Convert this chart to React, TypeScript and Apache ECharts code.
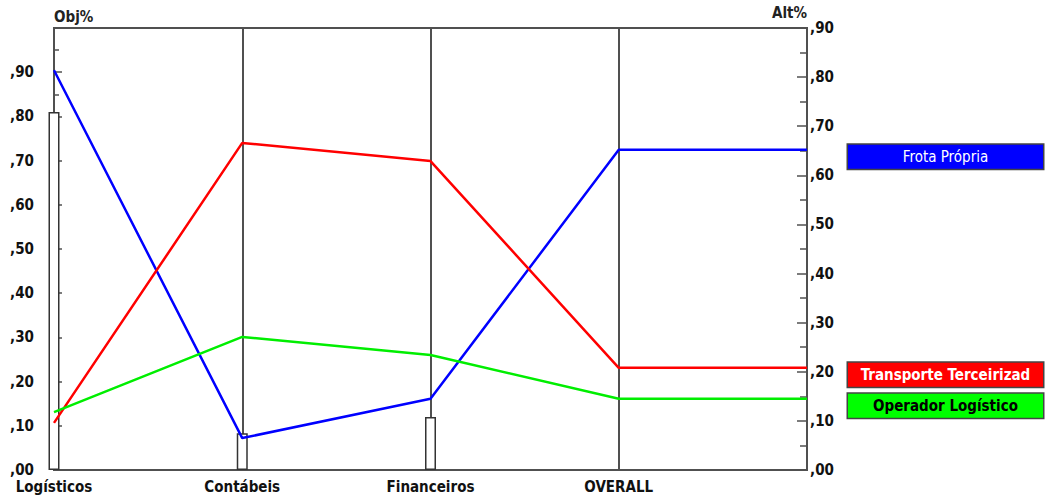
import React, { useEffect, useRef } from "react";
import * as echarts from "echarts";

const categories = ["Logísticos", "Contábeis", "Financeiros", "OVERALL", ""];
const objWeights = [0.81, 0.083, 0.12, null, null];
const frotaPropria = [0.814, 0.065, 0.145, 0.652, 0.652];
const transporteTerceirizado = [0.096, 0.666, 0.629, 0.208, 0.208];
const operadorLogistico = [0.118, 0.271, 0.234, 0.145, 0.145];
const seriesNames = ["Frota Própria", "Transporte Terceirizado", "Operador Logístico"];
const legendTexts = ["Frota Própria", "Transporte Terceirizad", "Operador Logístico"];

const FONT = "'Liberation Sans Narrow', 'DejaVu Sans Condensed', 'DejaVu Sans', Arial, sans-serif";
const AX = "#505050";

const fmt = (v: number) => "," + String(Math.round(v * 100)).padStart(2, "0");

export default function App() {
  const ref = useRef<HTMLDivElement>(null);
  useEffect(() => {
    document.body.style.margin = "0";
    const chart = echarts.init(ref.current!, null, { renderer: "svg" });
    const endLabel = (text: string, bg: string, color: string, weight: string) => ({
      show: true,
      distance: 41,
      offset: [0, 7],
      formatter: () => "{a|" + text + "}",
      backgroundColor: bg,
      borderColor: "#444",
      borderWidth: 1.5,
      padding: [5, 2, 4, 2],
      rich: {
        a: {
          width: 191,
          align: "center",
          color,
          fontFamily: FONT,
          fontSize: 15,
          fontWeight: weight,
        },
      },
    });
    const lineSeries = (name: string, data: number[], color: string, label: any) => ({
      name,
      type: "line",
      yAxisIndex: 1,
      data,
      symbol: "none",
      lineStyle: { color, width: 2.5 },
      itemStyle: { color },
      endLabel: label,
      z: 5,
    });
    chart.setOption({
      animation: false,
      backgroundColor: "#fff",
      grid: {
        left: 54,
        right: 238,
        top: 28,
        bottom: 30,
        show: true,
        borderColor: AX,
        borderWidth: 2,
        backgroundColor: "transparent",
      },
      xAxis: {
        type: "category",
        data: categories,
        boundaryGap: false,
        axisLine: { show: true, lineStyle: { color: AX, width: 2 } },
        axisTick: { show: false },
        axisLabel: {
          interval: 0,
          margin: 9,
          fontFamily: FONT,
          fontWeight: "bold",
          fontSize: 15,
          color: "#111",
        },
        splitLine: { show: true, lineStyle: { color: AX, width: 2 } },
      },
      yAxis: [
        {
          type: "value",
          position: "left",
          min: 0,
          max: 1,
          interval: 0.1,
          name: "Obj%",
          nameLocation: "end",
          nameGap: 4,
          nameTextStyle: { align: "left", fontFamily: FONT, fontWeight: "bold", fontSize: 15, color: "#222" },
          axisLine: { show: true, lineStyle: { color: AX, width: 2 } },
          axisTick: { show: true, inside: true, length: 8, lineStyle: { color: AX, width: 1.5 } },
          minorTick: { show: true, splitNumber: 2, length: 5, lineStyle: { color: AX, width: 1.5 } },
          axisLabel: {
            margin: 20,
            formatter: (v: number) => (v >= 0.999 ? "" : fmt(v)),
            fontFamily: FONT,
            fontWeight: "bold",
            fontSize: 15,
            lineHeight: 15,
            padding: [0, 0, 3, 0],
            color: "#111",
          },
          splitLine: { show: false },
        },
        {
          type: "value",
          position: "right",
          min: 0,
          max: 0.9,
          interval: 0.1,
          name: "Alt%",
          nameLocation: "end",
          nameGap: 4,
          nameTextStyle: { align: "right", fontFamily: FONT, fontWeight: "bold", fontSize: 15, color: "#222" },
          axisLine: { show: true, lineStyle: { color: AX, width: 2 } },
          axisTick: { show: true, inside: true, length: 10, lineStyle: { color: AX, width: 1.5 } },
          minorTick: { show: true, splitNumber: 2, length: 7, lineStyle: { color: AX, width: 1.5 } },
          axisLabel: {
            margin: 3,
            formatter: (v: number) => fmt(v),
            fontFamily: FONT,
            fontWeight: "bold",
            fontSize: 15,
            color: "#111",
          },
          splitLine: { show: false },
        },
      ],
      series: [
        {
          name: "Obj",
          type: "bar",
          yAxisIndex: 0,
          data: objWeights,
          barWidth: 11,
          itemStyle: { color: "#fff", borderColor: "#333", borderWidth: 1.5 },
          z: 2,
        },
        lineSeries(seriesNames[0], frotaPropria, "#0000ff", endLabel(legendTexts[0], "#0000ff", "#fff", "normal")),
        lineSeries(seriesNames[1], transporteTerceirizado, "#ff0000", endLabel(legendTexts[1], "#ff0000", "#fff", "bold")),
        lineSeries(seriesNames[2], operadorLogistico, "#00ee00", endLabel(legendTexts[2], "#00ff00", "#000", "bold")),
      ],
    });
    return () => chart.dispose();
  }, []);
  return <div ref={ref} style={{ width: 1045, height: 500 }} />;
}
